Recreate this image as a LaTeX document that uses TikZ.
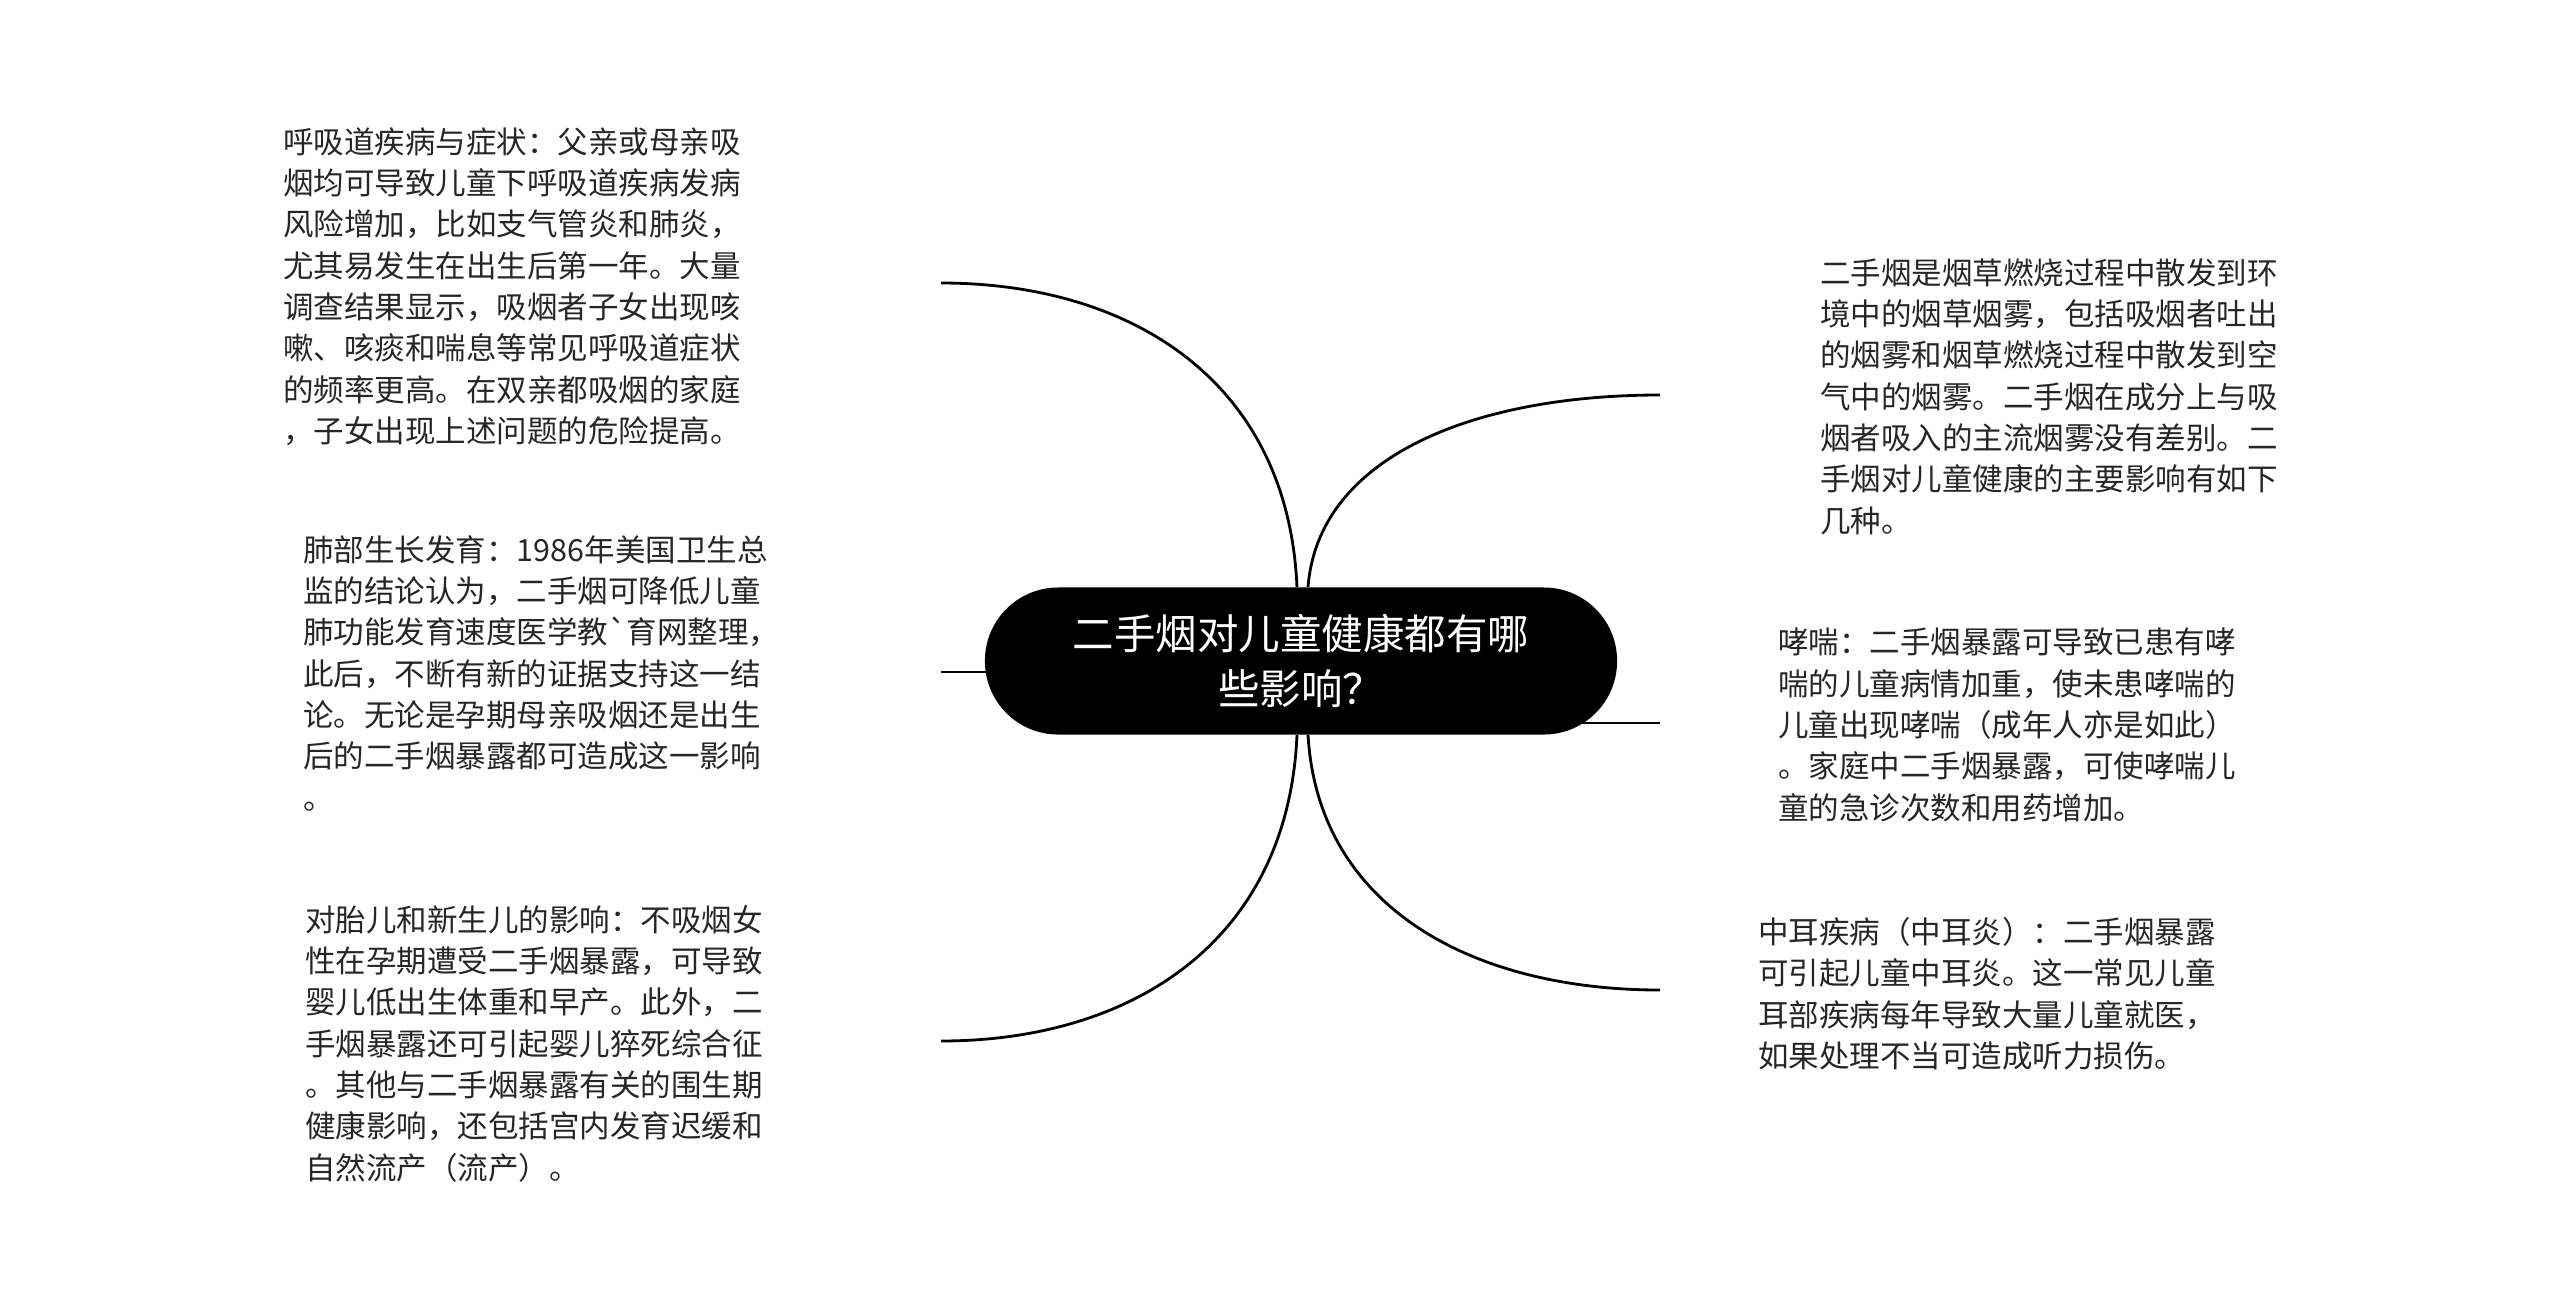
\documentclass[tikz,border=0pt]{standalone}
\usepackage{fontspec}
\newfontfamily\cjk{Noto Sans CJK SC}
\usetikzlibrary{backgrounds}

\begin{document}
\begin{tikzpicture}[x=0.025cm, y=-0.025cm,
    root/.style={fill=black, text=white, rounded corners=1.83cm, minimum width=15.8cm, minimum height=3.675cm,
      align=center, inner sep=0pt, font=\cjk\fontsize{29.5}{39.1}\selectfont},
    leaf/.style={anchor=north west, align=left, inner sep=0pt, text=black!85,
      font=\cjk\fontsize{21.7}{29.4}\selectfont},
    link/.style={line width=2pt}]
    \useasboundingbox (0,0) rectangle (2560,1304);
    \node[root] (root) at (1301,661) {二手烟对儿童健康都有哪\\些影响？};
    \node[leaf] (b1) at (283,127) {呼吸道疾病与症状：父亲或母亲吸\\烟均可导致儿童下呼吸道疾病发病\\风险增加，比如支气管炎和肺炎，\\尤其易发生在出生后第一年。大量\\调查结果显示，吸烟者子女出现咳\\嗽、咳痰和喘息等常见呼吸道症状\\的频率更高。在双亲都吸烟的家庭\\，子女出现上述问题的危险提高。};
    \node[leaf] (b2) at (303,535) {肺部生长发育：1986年美国卫生总\\监的结论认为，二手烟可降低儿童\\肺功能发育速度医学教\char96 育网整理，\\此后，不断有新的证据支持这一结\\论。无论是孕期母亲吸烟还是出生\\后的二手烟暴露都可造成这一影响\\。};
    \node[leaf] (b3) at (305,905) {对胎儿和新生儿的影响：不吸烟女\\性在孕期遭受二手烟暴露，可导致\\婴儿低出生体重和早产。此外，二\\手烟暴露还可引起婴儿猝死综合征\\。其他与二手烟暴露有关的围生期\\健康影响，还包括宫内发育迟缓和\\自然流产（流产）。};
    \node[leaf] (b4) at (1820,258) {二手烟是烟草燃烧过程中散发到环\\境中的烟草烟雾，包括吸烟者吐出\\的烟雾和烟草燃烧过程中散发到空\\气中的烟雾。二手烟在成分上与吸\\烟者吸入的主流烟雾没有差别。二\\手烟对儿童健康的主要影响有如下\\几种。};
    \node[leaf] (b5) at (1778,628) {哮喘：二手烟暴露可导致已患有哮\\喘的儿童病情加重，使未患哮喘的\\儿童出现哮喘（成年人亦是如此）\\。家庭中二手烟暴露，可使哮喘儿\\童的急诊次数和用药增加。};
    \node[leaf] (b6) at (1758,917) {中耳疾病（中耳炎）：二手烟暴露\\可引起儿童中耳炎。这一常见儿童\\耳部疾病每年导致大量儿童就医，\\如果处理不当可造成听力损伤。};
    \foreach \i/\a/\s/\x/\y/\cx/\cy/\dx in {1/north/-4/941/283/1288/380/1130, 3/south/-4/941/1041/1288/943/1130,
        4/north/7/1660/395/1318/457/1473, 6/south/7/1660/990/1318/908/1473}{
      \coordinate (e\i) at (\x,\y);
      \draw[link] (root.\a) ++(\s,0) .. controls (\cx,\cy) and (\dx,\y) .. (e\i);
    }
    \coordinate (e2) at (941,672);
    \coordinate (e5) at (1660,723);
    \begin{scope}[on background layer]
      \draw[link] (root.center |- e2) -- (e2);
      \draw[link] (root.center |- e5) -- (e5);
    \end{scope}
  \end{tikzpicture}
\end{document}
